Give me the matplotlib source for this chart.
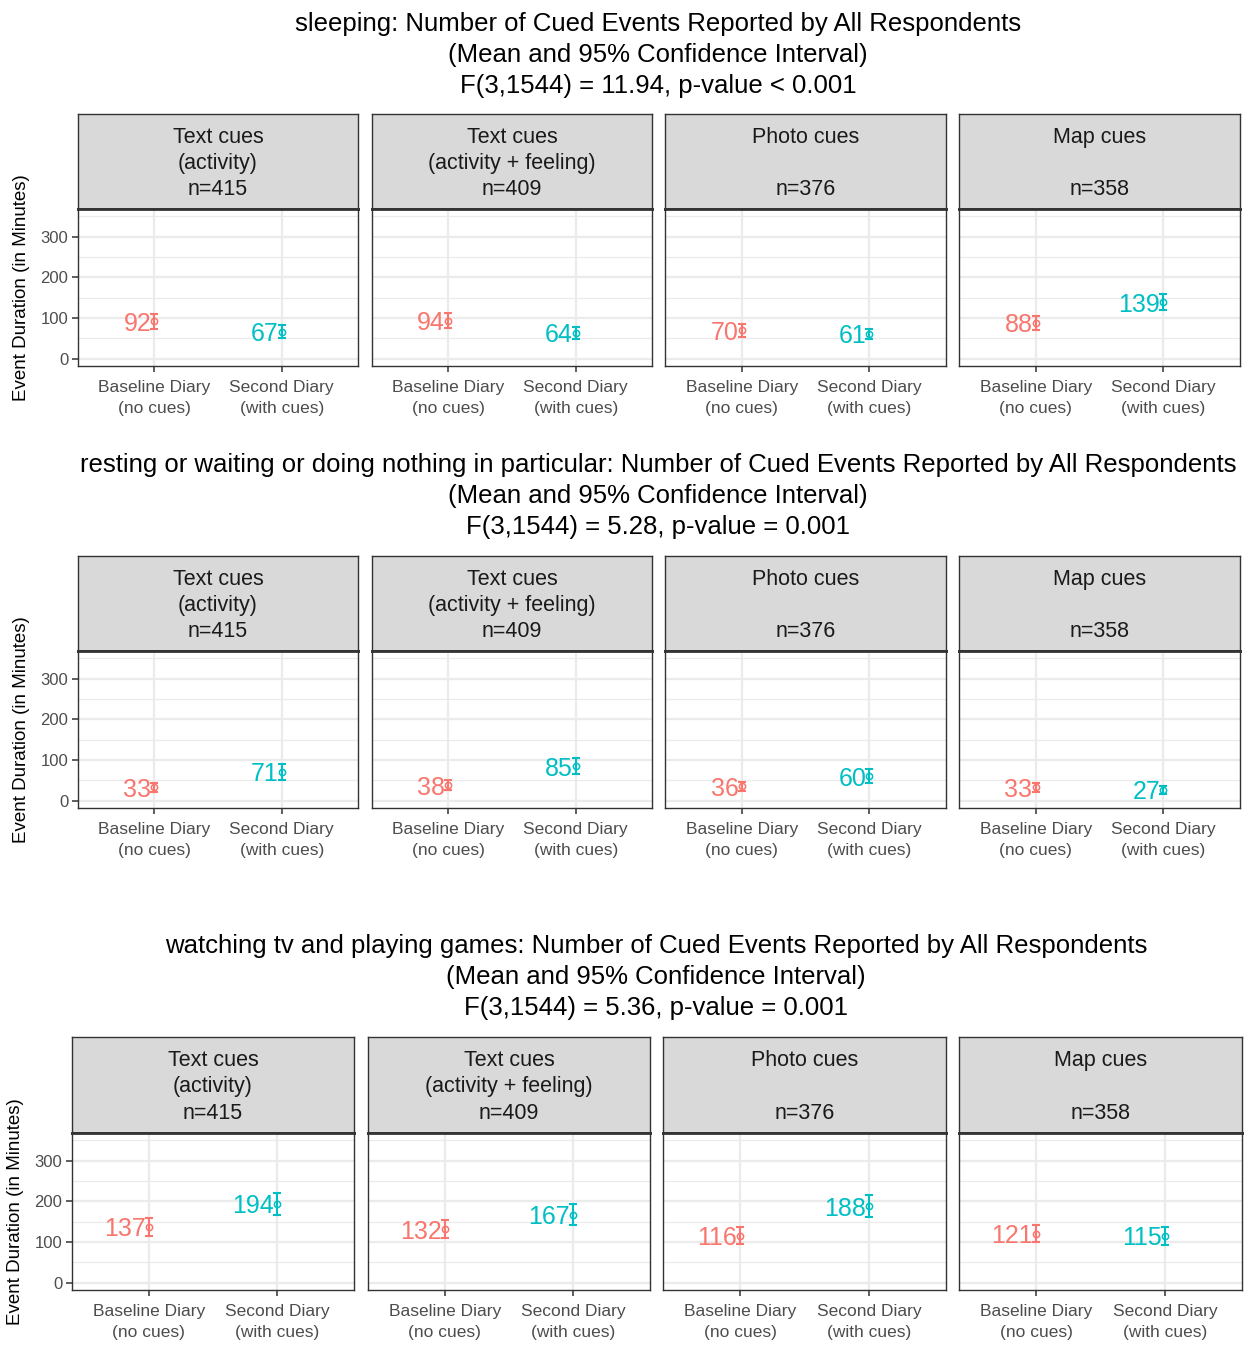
import matplotlib
matplotlib.use("Agg")
import matplotlib.pyplot as plt
from matplotlib.ticker import FixedLocator

plt.rcParams['font.family'] = ['Liberation Sans', 'DejaVu Sans']

# ---- data ----
activities = ["sleeping",
              "resting or waiting or doing nothing in particular",
              "watching tv and playing games"]
f_tests = ["F(3,1544) = 11.94, p-value < 0.001",
           "F(3,1544) = 5.28, p-value = 0.001",
           "F(3,1544) = 5.36, p-value = 0.001"]
cue_groups = ["Text cues\n(activity)\nn=415",
              "Text cues\n(activity + feeling)\nn=409",
              "Photo cues\n\nn=376",
              "Map cues\n\nn=358"]
diaries = ["Baseline Diary\n(no cues)", "Second Diary\n(with cues)"]

# mean event duration (minutes) per cue group
baseline_mean = [[92, 94, 70, 88],
                 [33, 38, 36, 33],
                 [137, 132, 116, 121]]
second_mean = [[67, 64, 61, 139],
               [71, 85, 60, 27],
               [194, 167, 188, 115]]
# half width of the 95% confidence interval
baseline_ci = [[19, 18, 16, 17],
               [11, 12, 11, 11],
               [23, 21, 21, 21]]
second_ci = [[17, 15, 12, 19],
             [19, 19, 17, 10],
             [27, 26, 27, 21]]

colors = ["#F8766D", "#00BFC4"]

# ---- layout (pixels) ----
W, H = 1244, 1345
fig = plt.figure(figsize=(W / 100, H / 100), dpi=100)

rows = [
    dict(title_y=22, strip_top=114, panel_top=209, panel_bot=366, ylab_x=22,
         cols=[(78, 358), (372, 652), (665, 946), (959, 1240)], title_x=658),
    dict(title_y=463, strip_top=556, panel_top=651, panel_bot=808, ylab_x=22,
         cols=[(78, 358), (372, 652), (665, 946), (959, 1240)], title_x=658),
    dict(title_y=944, strip_top=1037, panel_top=1133, panel_bot=1290, ylab_x=16,
         cols=[(72, 354), (368, 650), (663, 946), (959, 1242)], title_x=656),
]


def rect(x0, x1, ytop, ybot):
    return [x0 / W, 1 - ybot / H, (x1 - x0) / W, (ybot - ytop) / H]


border = "#333333"
grid_c = "#EBEBEB"

for r, lay in enumerate(rows):
    fig.text(lay["title_x"] / W, 1 - (lay["title_y"] + 33) / H,
             f"{activities[r]}: Number of Cued Events Reported by All Respondents\n"
             f"(Mean and 95% Confidence Interval)\n{f_tests[r]}",
             ha="center", va="center", fontsize=18.5, linespacing=1.37)
    fig.text(lay["ylab_x"] / W, 1 - (lay["panel_top"] + lay["panel_bot"]) / 2 / H,
             "Event Duration (in Minutes)", rotation=90, ha="center", va="center",
             fontsize=13.5)
    for c, (x0, x1) in enumerate(lay["cols"]):
        # strip
        sax = fig.add_axes(rect(x0, x1, lay["strip_top"], lay["panel_top"]))
        sax.set_facecolor("#D9D9D9")
        sax.set_xticks([])
        sax.set_yticks([])
        for s in sax.spines.values():
            s.set_color(border)
            s.set_linewidth(1.0)
        sax.spines["bottom"].set_linewidth(2.0)
        sax.text(0.5, 0.48, cue_groups[c], ha="center", va="center",
                 fontsize=15.5, linespacing=1.32, color="#1A1A1A",
                 transform=sax.transAxes)

        # panel
        ax = fig.add_axes(rect(x0, x1, lay["panel_top"], lay["panel_bot"]))
        ax.set_xlim(0.4, 2.6)
        ax.set_ylim(-17.5, 367.5)
        ax.yaxis.set_major_locator(FixedLocator([0, 100, 200, 300]))
        ax.yaxis.set_minor_locator(FixedLocator([50, 150, 250, 350]))
        ax.set_xticks([1, 2])
        ax.set_xticklabels(diaries, fontsize=12.5, color="#4D4D4D", linespacing=1.5)
        ax.tick_params(axis="x", length=4, width=1.1, color=border, pad=6)
        ax.tick_params(axis="y", which="major", length=4, width=1.1, color=border,
                       labelsize=12, labelcolor="#4D4D4D", pad=3)
        ax.tick_params(axis="y", which="minor", length=0)
        if c != 0:
            ax.tick_params(axis="y", which="major", length=0, labelleft=False)
        ax.grid(True, which="major", color=grid_c, lw=1.6)
        ax.grid(True, which="minor", axis="y", color=grid_c, lw=0.9)
        ax.set_axisbelow(True)
        for s in ax.spines.values():
            s.set_color(border)
            s.set_linewidth(1.0)
        ax.spines["top"].set_linewidth(2.0)

        means = [baseline_mean[r][c], second_mean[r][c]]
        cis = [baseline_ci[r][c], second_ci[r][c]]
        for k in range(2):
            xk = k + 1
            ax.errorbar([xk], [means[k]], yerr=[cis[k]], fmt="none",
                        ecolor=colors[k], elinewidth=1.5, capsize=2.6,
                        capthick=1.5, zorder=3)
            ax.plot([xk], [means[k]], marker="o", ms=4.5, mfc="none",
                    mec=colors[k], mew=1.1, zorder=4)
            ax.text(xk - 0.025, means[k], f"{means[k]}", ha="right",
                    va="center_baseline", fontsize=18, color=colors[k], zorder=5)

fig.savefig("out.png", dpi=100)
